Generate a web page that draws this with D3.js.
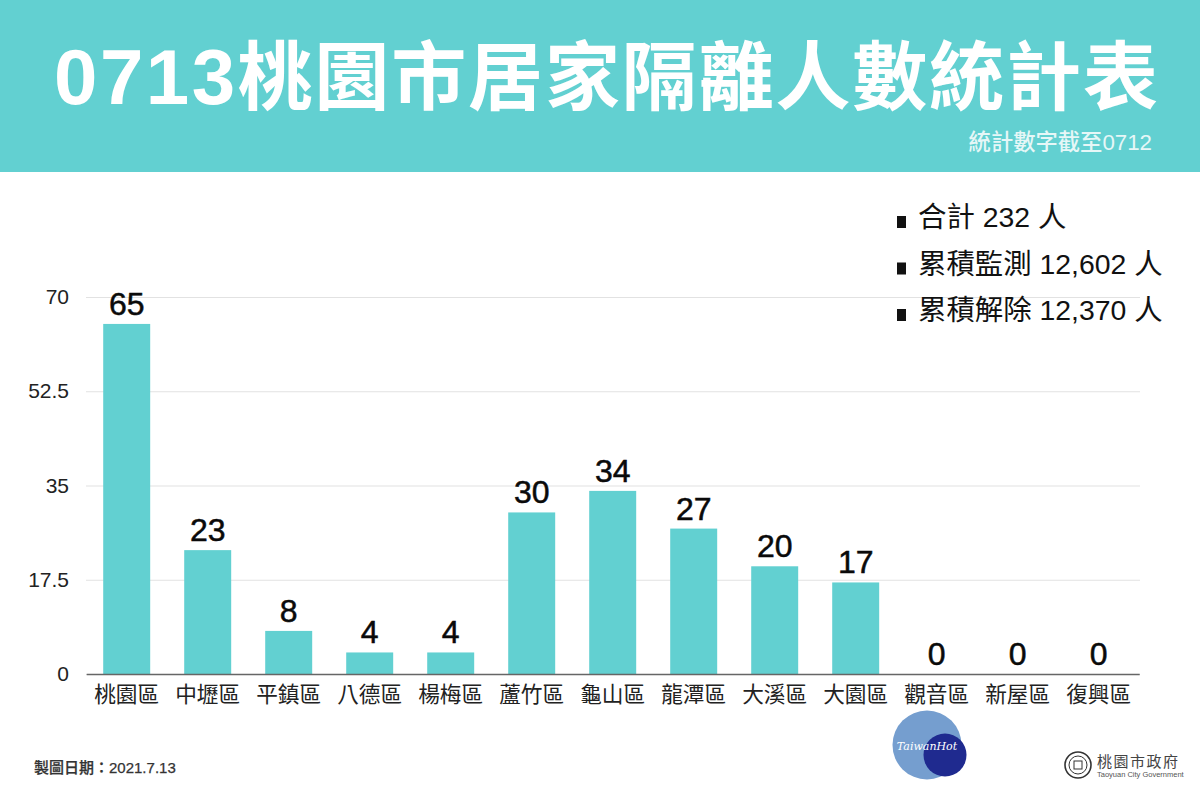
<!DOCTYPE html>
<html>
<head>
<meta charset="utf-8">
<title>0713桃園市居家隔離人數統計表</title>
<script src="https://cdn.jsdelivr.net/npm/d3@7"></script>
<style>
  html, body { margin: 0; padding: 0; background: #fff; }
  svg { display: block; }
  text { font-family: "Liberation Sans", "Noto Sans CJK TC", sans-serif; }
</style>
</head>
<body>
<div id="chart"></div>
<script>
var districts = ["桃園區", "中壢區", "平鎮區", "八德區", "楊梅區", "蘆竹區", "龜山區", "龍潭區", "大溪區", "大園區", "觀音區", "新屋區", "復興區"];
var counts = [65, 23, 8, 4, 4, 30, 34, 27, 20, 17, 0, 0, 0];
var yTicks = [0, 17.5, 35, 52.5, 70];
var summaryLines = ["合計 232 人", "累積監測 12,602 人", "累積解除 12,370 人"];

var teal = "#62d0d1";
var svg = d3.select("#chart").append("svg").attr("width", 1200).attr("height", 800);

// header band
svg.append("rect").attr("width", 1200).attr("height", 172).attr("fill", teal);
var title = svg.append("text").attr("x", 54).attr("y", 104)
  .attr("fill", "#fff").attr("font-weight", "bold").attr("font-size", 75);
title.append("tspan").attr("letter-spacing", 2.5).attr("font-size", 78).text("0713");
title.append("tspan").attr("letter-spacing", 1.85).text("桃園市居家隔離人數統計表");
svg.append("text").attr("x", 1152).attr("y", 150).attr("text-anchor", "end")
  .attr("fill", "#e6f7f7").attr("font-size", 22.3).attr("font-weight", "500").text("統計數字截至0712");

// scales
var x = d3.scaleBand().domain(districts).range([86.2, 1139.2]).paddingInner(0.42).paddingOuter(0.21);
var y = d3.scaleLinear().domain([0, 70]).range([674, 297]);

// gridlines and y labels
var yAxis = svg.append("g").attr("transform", "translate(86,0)")
  .call(d3.axisLeft(y).tickValues(yTicks).tickSize(-1054).tickFormat(function(d) { return d; }));
yAxis.select(".domain").remove();
yAxis.selectAll("line").attr("stroke", "#e2e2e2").attr("stroke-width", 1.2);
yAxis.selectAll("text").attr("x", -17).attr("font-size", 21).attr("fill", "#222")
  .style("font-family", "Liberation Sans");

// bars
svg.selectAll(".bar").data(districts).enter().append("rect").attr("class", "bar")
  .attr("x", function(d) { return x(d); })
  .attr("width", x.bandwidth())
  .attr("y", function(d, i) { return y(counts[i]); })
  .attr("height", function(d, i) { return y(0) - y(counts[i]); })
  .attr("fill", teal);

// value labels
svg.selectAll(".val").data(districts).enter().append("text").attr("class", "val")
  .attr("x", function(d) { return x(d) + x.bandwidth() / 2; })
  .attr("y", function(d, i) { return y(counts[i]) - 9; })
  .attr("text-anchor", "middle").attr("font-size", 32).attr("fill", "#0a0a0a")
  .attr("stroke", "#0a0a0a").attr("stroke-width", 0.5)
  .text(function(d, i) { return counts[i]; });

// x axis
var xAxis = svg.append("g").attr("transform", "translate(0,674)")
  .call(d3.axisBottom(x).tickSize(0).tickPadding(13));
xAxis.select(".domain").attr("stroke", "#666").attr("stroke-width", 1.5);
xAxis.selectAll("text").attr("font-size", 21.7).attr("fill", "#222")
  .style("font-family", "Noto Sans CJK TC");

// summary list
var summary = svg.selectAll(".sum").data(summaryLines).enter().append("g").attr("class", "sum")
  .attr("transform", function(d, i) { return "translate(0," + (227 + i * 46.5) + ")"; });
summary.append("rect").attr("x", 897).attr("y", -11).attr("width", 9).attr("height", 12).attr("fill", "#111");
summary.append("text").attr("x", 918).attr("font-size", 28.4).attr("fill", "#111")
  .text(function(d) { return d; });

// footer
svg.append("text").attr("x", 34).attr("y", 773).attr("font-size", 15).attr("font-weight", "500")
  .attr("fill", "#333").attr("stroke", "#333").attr("stroke-width", 0.25).text("製圖日期：2021.7.13");

// TaiwanHot badge
svg.append("circle").attr("cx", 927).attr("cy", 745).attr("r", 34.5).attr("fill", "#759ecf");
svg.append("circle").attr("cx", 945).attr("cy", 755).attr("r", 21.5).attr("fill", "#1f2a8f");
svg.append("text").attr("x", 927).attr("y", 750).attr("text-anchor", "middle").attr("fill", "#fff")
  .attr("font-size", 11).attr("font-style", "italic").style("font-family", "DejaVu Serif").text("TaiwanHot");

// city government mark
var seal = svg.append("g").attr("transform", "translate(1078,765)").attr("fill", "none").attr("stroke", "#333");
seal.append("circle").attr("r", 13).attr("stroke-width", 1.6);
seal.append("circle").attr("r", 9).attr("stroke-width", 1);
seal.append("rect").attr("x", -4).attr("y", -4).attr("width", 8).attr("height", 8).attr("stroke-width", 1);
svg.append("text").attr("x", 1097).attr("y", 767).attr("font-size", 15).attr("fill", "#444")
  .attr("letter-spacing", 1.5).style("font-family", "Noto Sans CJK TC").text("桃園市政府");
svg.append("text").attr("x", 1097).attr("y", 777).attr("font-size", 7.5).attr("fill", "#555").text("Taoyuan City Government");
</script>
</body>
</html>
